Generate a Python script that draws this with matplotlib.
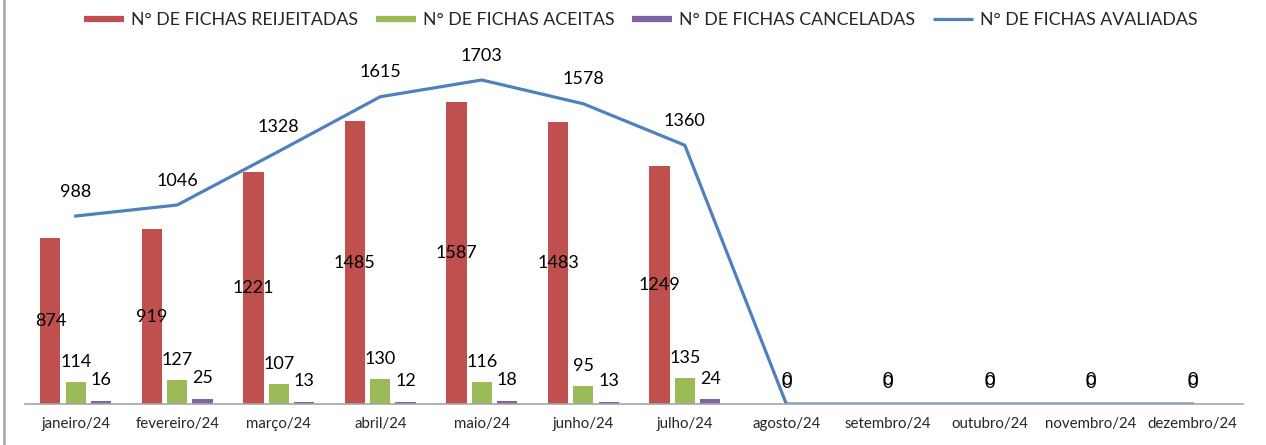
import matplotlib.pyplot as plt
from matplotlib.lines import Line2D
import numpy as np

plt.rcParams['font.family'] = ['Lato', 'DejaVu Sans']

meses = ['janeiro/24', 'fevereiro/24', 'março/24', 'abril/24', 'maio/24', 'junho/24',
         'julho/24', 'agosto/24', 'setembro/24', 'outubro/24', 'novembro/24', 'dezembro/24']
rejeitadas = [874, 919, 1221, 1485, 1587, 1483, 1249, 0, 0, 0, 0, 0]
aceitas = [114, 127, 107, 130, 116, 95, 135, 0, 0, 0, 0, 0]
canceladas = [16, 25, 13, 12, 18, 13, 24, 0, 0, 0, 0, 0]
avaliadas = [988, 1046, 1328, 1615, 1703, 1578, 1360, 0, 0, 0, 0, 0]

cor_rej = '#C0504D'
cor_ace = '#9BBB59'
cor_can = '#8064A2'
cor_ava = '#4F81BD'

fig = plt.figure(figsize=(12.66, 4.45), dpi=100)
ax = fig.add_axes([0.0197, 0.0921, 0.9623, 0.7696])

x = np.arange(len(meses))
w = 0.2
ax.bar(x - 0.25, rejeitadas, w, color=cor_rej)
ax.bar(x, aceitas, w, color=cor_ace)
ax.bar(x + 0.25, canceladas, w, color=cor_can)
ax.plot(x, avaliadas, color=cor_ava, lw=2.3, solid_joinstyle='miter')

fs = 13
for i in range(len(meses)):
    if avaliadas[i] == 0:
        # rótulos zerados sobrepostos, como no original
        ax.annotate('0', (x[i], 0), xytext=(0, 15), textcoords='offset points',
                    ha='center', va='center', fontsize=fs)
        ax.annotate('0', (x[i], 0), xytext=(0, 17.5), textcoords='offset points',
                    ha='center', va='center', fontsize=fs)
        continue
    ax.annotate(str(rejeitadas[i]), (x[i] - 0.25, rejeitadas[i] / 2), ha='center',
                va='center', fontsize=fs)
    ax.annotate(str(aceitas[i]), (x[i], aceitas[i]), xytext=(0, 14.5),
                textcoords='offset points', ha='center', va='center', fontsize=fs)
    ax.annotate(str(canceladas[i]), (x[i] + 0.25, canceladas[i]), xytext=(0, 15),
                textcoords='offset points', ha='center', va='center', fontsize=fs)
    ax.annotate(str(avaliadas[i]), (x[i], avaliadas[i]), xytext=(0, 17.5),
                textcoords='offset points', ha='center', va='center', fontsize=fs)

ax.set_xlim(-0.5, len(meses) - 0.5)
ax.set_ylim(0, 1800)
ax.set_xticks(x)
ax.set_xticklabels(meses, fontsize=10.8, color='#262626')
ax.tick_params(axis='x', length=0, pad=9)
ax.set_yticks([])
for s in ['top', 'right', 'left']:
    ax.spines[s].set_visible(False)
ax.spines['bottom'].set_color('#A6A6A6')
ax.spines['bottom'].set_linewidth(1.2)

handles = [Line2D([], [], color=cor_rej, lw=4.5, solid_capstyle='butt'),
           Line2D([], [], color=cor_ace, lw=4.5, solid_capstyle='butt'),
           Line2D([], [], color=cor_can, lw=4.5, solid_capstyle='butt'),
           Line2D([], [], color=cor_ava, lw=2.3, solid_capstyle='butt')]
nomes = ['N° DE FICHAS REIJEITADAS', 'N° DE FICHAS ACEITAS', 'N° DE FICHAS CANCELADAS',
         'N° DE FICHAS AVALIADAS']
fig.legend(handles, nomes, loc='center', bbox_to_anchor=(0.506, 0.955), ncol=4,
           frameon=False, fontsize=12.8, handlelength=2.25, handletextpad=0.4,
           columnspacing=1.0, labelcolor='#262626')

# borda esquerda do quadro
fig.add_artist(Line2D([0.0028, 0.0028], [0, 1], color='#A6A6A6', lw=1.8,
                      transform=fig.transFigure))

fig.savefig('out.png', dpi=100)
